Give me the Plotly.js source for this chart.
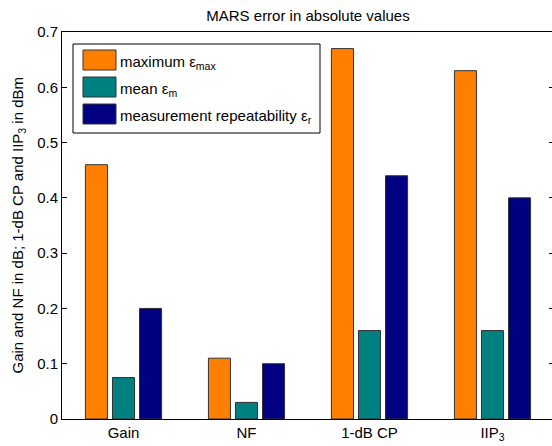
<!DOCTYPE html>
<html>
<head>
<meta charset="utf-8">
<script src="https://cdn.plot.ly/plotly-3.0.1.min.js"></script>
<style>
html, body { margin: 0; padding: 0; overflow: hidden; background: #fff; }
#chart { width: 556px; height: 446px; }
</style>
</head>
<body>
<div id="chart"></div>
<script>
// Data
const categories = ['Gain', 'NF', '1-dB CP', 'IIP<sub>3</sub>'];
const maxError = [0.46, 0.11, 0.67, 0.63];
const meanError = [0.075, 0.03, 0.16, 0.16];
const repeatability = [0.20, 0.10, 0.44, 0.40];
const seriesNames = ['maximum ε<sub>max</sub>', 'mean ε<sub>m</sub>', 'measurement repeatability ε<sub>r</sub>'];
const seriesColors = ['#FF8000', '#008080', '#000080'];
const yTicks = [0, 0.1, 0.2, 0.3, 0.4, 0.5, 0.6, 0.7];
const yTitle = 'Gain and NF in dB; 1-dB CP and IIP<sub>3</sub> in dBm';

const seriesValues = [maxError, meanError, repeatability];
const xIdx = categories.map((c, i) => i);
const FONT = 'Liberation Sans, Arial, sans-serif';

const traces = seriesValues.map((vals, k) => ({
  type: 'bar',
  x: xIdx,
  y: vals,
  name: seriesNames[k],
  marker: { color: seriesColors[k], line: { color: '#333333', width: 1 } },
  showlegend: false,
  hoverinfo: 'skip'
}));

// plot area in px: left 62, right 554, top 32, bottom 419
const px = v => (v - 62) / 492;
const py = v => (419 - v) / 387;

const shapes = [{
  type: 'rect', xref: 'paper', yref: 'paper',
  x0: px(73), x1: px(320), y0: py(133), y1: py(44),
  line: { color: '#000', width: 1 }, fillcolor: '#fff', layer: 'above'
}];
const rowTop = [50, 77, 104];
const annotations = [];
seriesNames.forEach((n, k) => {
  shapes.push({
    type: 'rect', xref: 'paper', yref: 'paper',
    x0: px(83), x1: px(116), y0: py(rowTop[k] + 20), y1: py(rowTop[k]),
    line: { color: '#333333', width: 1 }, fillcolor: seriesColors[k], layer: 'above'
  });
  annotations.push({
    xref: 'paper', yref: 'paper', x: px(118), y: py(rowTop[k] + 12),
    xanchor: 'left', yanchor: 'middle', showarrow: false, text: n,
    font: { family: FONT, size: 15, color: '#000' }
  });
});
annotations.push({
  xref: 'paper', yref: 'paper', x: px(18), y: 0.5,
  xanchor: 'center', yanchor: 'middle', textangle: -90, showarrow: false,
  text: yTitle, font: { family: FONT, size: 15, color: '#000' }
});

const layout = {
  width: 556, height: 446,
  margin: { l: 62, r: 2, t: 32, b: 27 },
  paper_bgcolor: '#fff', plot_bgcolor: '#fff',
  font: { family: FONT, size: 15, color: '#000' },
  title: {
    text: 'MARS error in absolute values',
    x: 0.5, xref: 'paper', xanchor: 'center',
    y: 1 - 16 / 446, yref: 'container', yanchor: 'middle',
    font: { size: 15, color: '#000' }
  },
  barmode: 'group',
  bargap: 0.34,
  bargroupgap: 0.185,
  xaxis: {
    range: [-0.5, 3.5],
    tickmode: 'array', tickvals: xIdx, ticktext: categories,
    ticks: '', showline: true, mirror: true, linecolor: '#000', linewidth: 1,
    showgrid: false, zeroline: false, fixedrange: true,
    tickfont: { size: 15 }
  },
  yaxis: {
    range: [0, 0.7],
    tickmode: 'array', tickvals: yTicks, ticktext: yTicks.map(v => v === 0 ? '0' : String(v)),
    ticks: 'inside', ticklen: 5, tickcolor: '#000', tickwidth: 1,
    showline: true, mirror: 'ticks', linecolor: '#000', linewidth: 1,
    showgrid: false, zeroline: false, fixedrange: true,
    tickfont: { size: 15 }
  },
  shapes: shapes,
  annotations: annotations
};

Plotly.newPlot('chart', traces, layout, { displayModeBar: false, staticPlot: true });
</script>
</body>
</html>
